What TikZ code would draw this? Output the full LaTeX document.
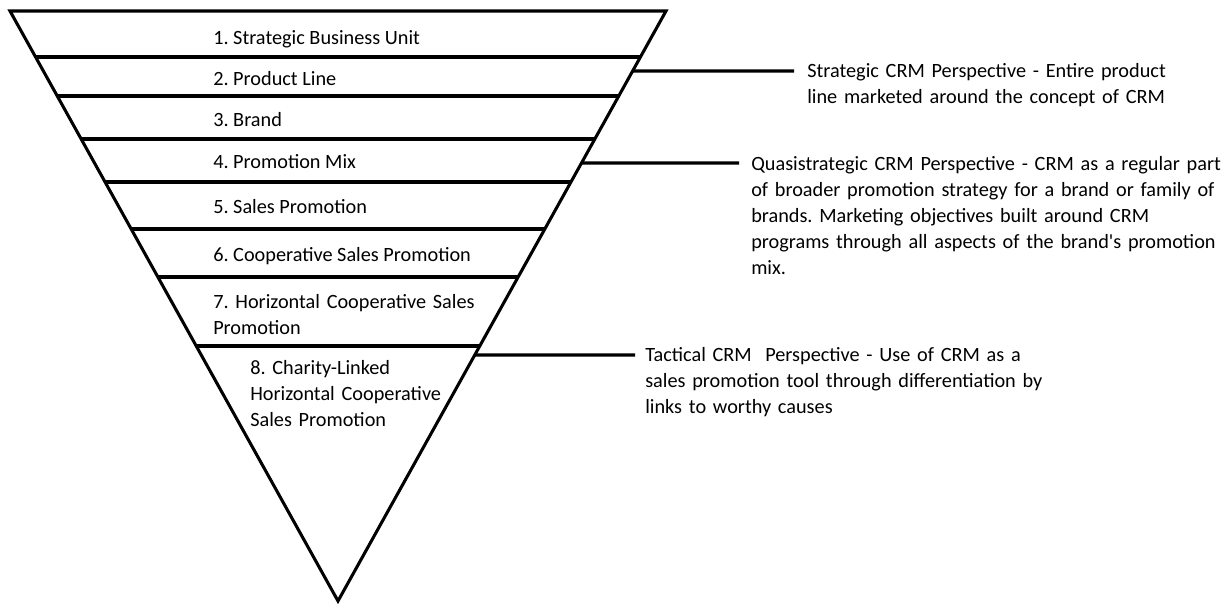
\documentclass[tikz,border=0pt]{standalone}
\usepackage{fontspec}
\setmainfont{Carlito}
\usetikzlibrary{calc}
\frenchspacing

\begin{document}
\begin{tikzpicture}[
  x=0.75pt, y=-0.75pt,
  font=\fontsize{15.2}{19.5}\selectfont,
  funnel/.style={line width=2.3pt, line join=miter},
  divider/.style={line width=2.3pt},
  link/.style={line width=2.3pt},
  layer/.style={anchor=base west, inner sep=0pt, align=left},
  note/.style={anchor=base west, inner sep=0pt, align=left, text width=#1},
]
  \useasboundingbox (0,0) rectangle (1227,604);

  % --- Funnel outline ---
  \coordinate (tl) at (10,11);
  \coordinate (tr) at (666,11);
  \coordinate (apex) at (338,601);
  \draw[funnel] (tl) -- (tr) -- (apex) -- cycle;

  % level dividers (given by their height below the top edge)
  \foreach \h in {46,85,128,171,218,266,335}
    \draw[divider] ($(tl)!{\h/590}!(apex)$) -- ($(tr)!{\h/590}!(apex)$);

  % --- Levels ---
  \node[layer] (sbu)   at (213,44)  {1. Strategic Business Unit};
  \node[layer] (line)  at (213,85)  {2. Product Line};
  \node[layer] (brand) at (213,126) {3. Brand};
  \node[layer] (mix)   at (213,168) {4. Promotion Mix};
  \node[layer] (sp)    at (213,213) {5. Sales Promotion};
  \node[layer] (csp)   at (213,261) {6. Cooperative Sales Promotion};
  \node[note=230pt] (hcsp) at (213,308) {7. Horizontal Cooperative Sales\\Promotion};
  \node[note=180pt] (clsp) at (250,374) {8. Charity-Linked\\Horizontal Cooperative\\Sales Promotion};

  % --- Perspectives ---
  \node[note=360pt] (strat) at (807,77)
    {Strategic CRM Perspective - Entire product\\line marketed around the concept of CRM};
  \node[note=400pt] (quasi) at (751,170)
    {Quasistrategic CRM Perspective - CRM as a regular part\\of broader promotion strategy for a brand or family of\\brands. Marketing objectives built around CRM\\programs through all aspects of the brand\textquotesingle s promotion\\mix.};
  \node[note=360pt] (tact) at (645,361)
    {Tactical CRM\ \ Perspective - Use of CRM as a\\sales promotion tool through differentiation by\\links to worthy causes};

  % connectors from the funnel edge to each perspective
  \coordinate (e1) at ($(tr)!{60/590}!(apex)$);
  \coordinate (e2) at ($(tr)!{152/590}!(apex)$);
  \coordinate (e3) at ($(tr)!{344/590}!(apex)$);
  \coordinate (s1) at (794,71);
  \coordinate (s2) at (739,163);
  \coordinate (s3) at (635,355);
  \draw[link] (e1) -- (s1);
  \draw[link] (e2) -- (s2);
  \draw[link] (e3) -- (s3);

\end{tikzpicture}
\end{document}
